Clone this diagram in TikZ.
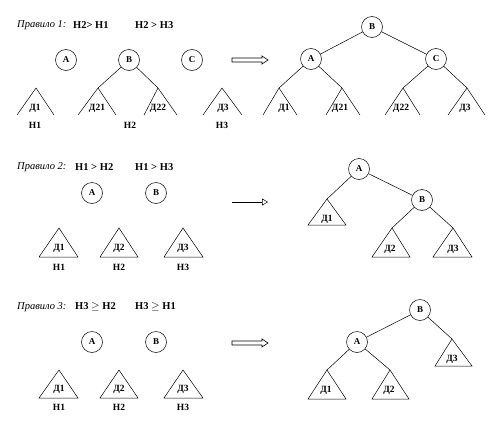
\documentclass[tikz,border=0pt]{standalone}
\usepackage{fontspec}
\setmainfont{Liberation Serif}
\usetikzlibrary{arrows.meta}
\tikzset{
  vert/.style={circle, draw, line width=0.5pt, minimum size=21pt, inner sep=0pt, font=\bfseries\fontsize{9}{10}\selectfont},
  lbl/.style={inner sep=0pt, font=\bfseries\fontsize{9.5}{11}\selectfont},
  ttl/.style={anchor=west, inner sep=0pt, font=\bfseries\fontsize{10.5}{12}\selectfont},
  edge/.style={line width=0.5pt},
  hollow/.style={line width=0.6pt}
}
\begin{document}
\begin{tikzpicture}[x=1pt,y=-1pt]
\useasboundingbox (0,0) rectangle (500,423);
% ---------- Rule 1 ----------
\node[ttl] (r1a) at (17,25) {\mdseries\itshape Правило 1:};
\node[ttl] (r1b) at (73,25) {Н2> Н1};
\node[ttl] (r1c) at (135,25) {Н2 > Н3};
\node[vert] (A1) at (66,60) {А};
\node[vert] (B1) at (129,60) {В};
\node[vert] (C1) at (192,60) {С};
\coordinate (p11) at (36,88);
\coordinate (p12) at (98,88);
\coordinate (p13) at (158,88);
\coordinate (p14) at (222,88);
\draw[edge] (p11) -- (17,115) (p11) -- (54,115);
\draw[edge] (p12) -- (78,115) (p12) -- (116,115);
\draw[edge] (p13) -- (144,115) (p13) -- (177,115);
\draw[edge] (p14) -- (203,115) (p14) -- (242,115);
\draw[edge] (B1) -- (p12) (B1) -- (p13);
\node[lbl] (l11) at (35,108) {Д1};
\node[lbl] (l12) at (97,108) {Д21};
\node[lbl] (l13) at (158,108) {Д22};
\node[lbl] (l14) at (223,108) {Д3};
\node[lbl] (h11) at (35,125) {Н1};
\node[lbl] (h12) at (130,125) {Н2};
\node[lbl] (h13) at (222,125) {Н3};
\draw[hollow] (232,58) -- (262,58) -- (262,56) -- (268,60) -- (262,64) -- (262,62) -- (232,62) -- cycle;
% right tree 1
\node[vert] (B1r) at (372,27) {В};
\node[vert] (A1r) at (311,59) {А};
\node[vert] (C1r) at (436,59) {С};
\coordinate (q11) at (279,88);
\coordinate (q12) at (342,88);
\coordinate (q13) at (403,88);
\coordinate (q14) at (467,88);
\draw[edge] (B1r) -- (A1r) (B1r) -- (C1r);
\draw[edge] (A1r) -- (q11) (A1r) -- (q12) (C1r) -- (q13) (C1r) -- (q14);
\draw[edge] (q11) -- (263,115) (q11) -- (297,115);
\draw[edge] (q12) -- (326,115) (q12) -- (360,115);
\draw[edge] (q13) -- (385,115) (q13) -- (420,115);
\draw[edge] (q14) -- (448,115) (q14) -- (485,115);
\node[lbl] (m11) at (284,108) {Д1};
\node[lbl] (m12) at (340,108) {Д21};
\node[lbl] (m13) at (401,108) {Д22};
\node[lbl] (m14) at (465,108) {Д3};
% ---------- Rule 2 ----------
\node[ttl] (r2a) at (17,167) {\mdseries\itshape Правило 2:};
\node[ttl] (r2b) at (75,167) {Н1 > Н2};
\node[ttl] (r2c) at (135,167) {Н1 > Н3};
\node[vert] (A2) at (92,193) {А};
\node[vert] (B2) at (156,193) {В};
\draw[edge] (59,228) -- (39,257) -- (78,257) -- cycle;
\draw[edge] (119,228) -- (100,257) -- (138,257) -- cycle;
\draw[edge] (183,228) -- (164,257) -- (203,257) -- cycle;
\node[lbl] (l21) at (59,248) {Д1};
\node[lbl] (l22) at (119,248) {Д2};
\node[lbl] (l23) at (183,248) {Д3};
\node[lbl] (h21) at (59,267) {Н1};
\node[lbl] (h22) at (119,267) {Н2};
\node[lbl] (h23) at (183,267) {Н3};
\coordinate (s2) at (232,202);
\coordinate (e2) at (268,202);
\draw[edge, -{Triangle[open, length=6pt, width=7pt]}] (s2) -- (e2);
% right tree 2
\node[vert] (A2r) at (359,169) {А};
\node[vert] (B2r) at (422,200) {В};
\coordinate (q21) at (327,199);
\coordinate (q22) at (392,228);
\coordinate (q23) at (453,228);
\draw[edge] (A2r) -- (B2r) (A2r) -- (q21) (B2r) -- (q22) (B2r) -- (q23);
\draw[edge] (q21) -- (308,225) -- (346,225) -- cycle;
\draw[edge] (q22) -- (372,257) -- (410,257) -- cycle;
\draw[edge] (q23) -- (433,257) -- (472,257) -- cycle;
\node[lbl] (m21) at (327,219) {Д1};
\node[lbl] (m22) at (390,249) {Д2};
\node[lbl] (m23) at (453,249) {Д3};
% ---------- Rule 3 ----------
\node[ttl] (r3a) at (17,307) {\mdseries\itshape Правило 3:};
\node[ttl] (r3b) at (75,307) {Н3 $\geq$ Н2};
\node[ttl] (r3c) at (135,307) {Н3 $\geq$ Н1};
\node[vert] (A3) at (92,342) {А};
\node[vert] (B3) at (156,342) {В};
\draw[edge] (59,370) -- (39,398) -- (78,398) -- cycle;
\draw[edge] (119,370) -- (100,398) -- (138,398) -- cycle;
\draw[edge] (183,370) -- (164,398) -- (203,398) -- cycle;
\node[lbl] (l31) at (59,389) {Д1};
\node[lbl] (l32) at (119,389) {Д2};
\node[lbl] (l33) at (183,389) {Д3};
\node[lbl] (h31) at (59,407) {Н1};
\node[lbl] (h32) at (119,407) {Н2};
\node[lbl] (h33) at (183,407) {Н3};
\draw[hollow] (232,341) -- (262,341) -- (262,339) -- (268,343) -- (262,347) -- (262,345) -- (232,345) -- cycle;
% right tree 3
\node[vert] (B3r) at (420,310) {В};
\node[vert] (A3r) at (357,342) {А};
\coordinate (q31) at (327,370);
\coordinate (q32) at (390,370);
\coordinate (q33) at (452,339);
\draw[edge] (B3r) -- (A3r) (B3r) -- (q33) (A3r) -- (q31) (A3r) -- (q32);
\draw[edge] (q31) -- (308,399) -- (346,399) -- cycle;
\draw[edge] (q32) -- (372,399) -- (409,399) -- cycle;
\draw[edge] (q33) -- (435,366) -- (472,366) -- cycle;
\node[lbl] (m31) at (326,390) {Д1};
\node[lbl] (m32) at (389,390) {Д2};
\node[lbl] (m33) at (452,359) {Д3};
\end{tikzpicture}
\end{document}
